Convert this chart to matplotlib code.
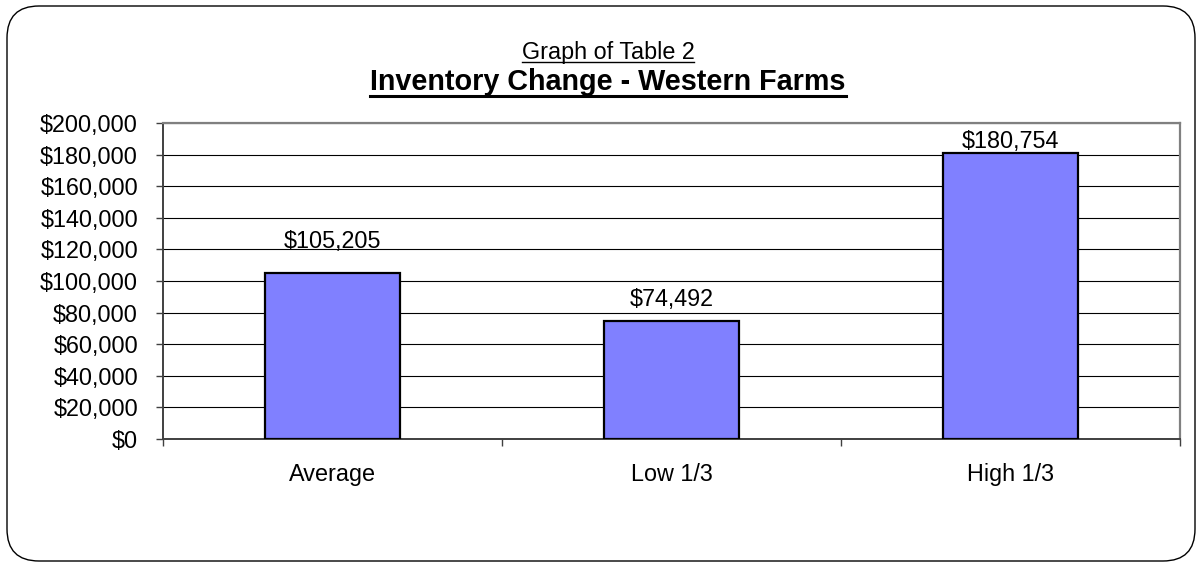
import matplotlib.pyplot as plt
from matplotlib.patches import FancyBboxPatch
from matplotlib.lines import Line2D
from matplotlib.ticker import FuncFormatter
import numpy as np

plt.rcParams['font.family'] = ['Liberation Sans', 'DejaVu Sans']

# data
CATEGORIES = ['Average', 'Low 1/3', 'High 1/3']
VALUES = [105205, 74492, 180754]
Y_TICKS = list(range(0, 200001, 20000))

# label offsets above the bars (points) - excel put them a bit oddly
LABEL_OFFSETS = [18, 10.8, 3.6]

FS = 16.8
BAR_COLOR = '#8080FF'

fig = plt.figure(figsize=(12.01, 5.67), dpi=100)
W, H = 1201, 567

# rounded frame around the whole chart
frame = FancyBboxPatch((0.07, 0.06), 11.88, 5.55,
                       boxstyle='round,pad=0,rounding_size=0.32',
                       transform=fig.dpi_scale_trans, facecolor='none',
                       edgecolor='black', linewidth=1.0, zorder=-1)
fig.patches.append(frame)

ax = fig.add_axes([163 / W, 1 - 439 / H, (1180 - 163) / W, (439 - 123) / H])
x = np.arange(len(CATEGORIES))
bars = ax.bar(x, VALUES, width=0.4, color=BAR_COLOR, edgecolor='black',
              linewidth=1.6, zorder=3)

for b, v, off in zip(bars, VALUES, LABEL_OFFSETS):
    ax.annotate('${:,.0f}'.format(v), (b.get_x() + b.get_width() / 2, v),
                xytext=(0, off), textcoords='offset points',
                ha='center', va='baseline', fontsize=FS)

ax.set_xlim(-0.5, len(CATEGORIES) - 0.5)
ax.set_ylim(0, 200000)
ax.set_yticks(Y_TICKS)
ax.yaxis.set_major_formatter(FuncFormatter(lambda v, p: '${:,.0f}'.format(v)))
ax.set_xticks(x)
ax.set_xticklabels(CATEGORIES)
ax.set_xticks(np.arange(-0.5, len(CATEGORIES)), minor=True)
ax.tick_params(axis='x', which='major', length=0, pad=17, labelsize=FS)
ax.tick_params(axis='x', which='minor', length=5, width=1, color='#404040',
               direction='out')
ax.tick_params(axis='y', length=5, width=1, color='#404040', pad=13,
               labelsize=FS)

ax.grid(axis='y', color='black', linewidth=0.8, zorder=1)
ax.set_axisbelow(True)
for s in ['top', 'right']:
    ax.spines[s].set_color('#808080')
    ax.spines[s].set_linewidth(1.6)
for s in ['left', 'bottom']:
    ax.spines[s].set_color('#404040')
    ax.spines[s].set_linewidth(1.4)

# titles with underline
cx = 608 / W
sub = fig.text(cx, 1 - 59 / H, 'Graph of Table 2', ha='center',
               va='baseline', fontsize=FS)
ttl = fig.text(cx, 1 - 90 / H, 'Inventory Change - Western Farms',
               ha='center', va='baseline', fontsize=20.7, fontweight='bold')

fig.canvas.draw()
r = fig.canvas.get_renderer()
for t, y_px, lw in [(sub, 62, 1.0), (ttl, 96, 2.2)]:
    bb = t.get_window_extent(r)
    fig.add_artist(Line2D([bb.x0 / W, bb.x1 / W], [1 - y_px / H, 1 - y_px / H],
                          transform=fig.transFigure, color='black',
                          linewidth=lw))

fig.savefig('out.png', dpi=100)
